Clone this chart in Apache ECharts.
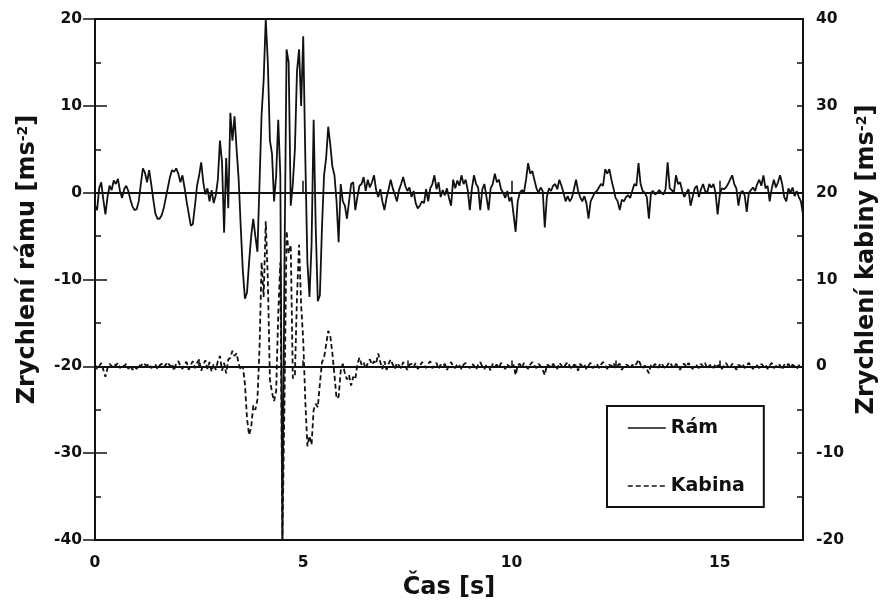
<!DOCTYPE html>
<html>
<head>
<meta charset="utf-8">
<script src="https://cdn.jsdelivr.net/npm/echarts@6/dist/echarts.min.js"></script>
<style>
  html, body { margin: 0; padding: 0; background: #fff; }
  #chart { width: 887px; height: 605px; }
</style>
</head>
<body>
<div id="chart"></div>
<script>
// samples are 0.05 s apart, one row per second
const SAMPLE_STEP = 0.05;
const seriesNames = ["Rám", "Kabina"];

// frame acceleration, left axis [m/s^2]
const ramValues = [
  -1.5, -2.0, 0.5, 1.2, -0.8, -2.5, -0.5, 0.8, 0.3, 1.4, 1.0, 1.6, 0.2, -0.6, 0.4, 0.8, 0.2, -0.8, -1.6, -2.0,
  -1.9, -1.0, 1.0, 2.8, 2.3, 1.2, 2.6, 1.0, -0.8, -2.4, -3.0, -3.0, -2.6, -1.8, -0.6, 0.6, 1.8, 2.6, 2.4, 2.8,
  2.2, 1.2, 2.0, 0.6, -1.0, -2.4, -3.8, -3.6, -1.5, 0.8, 2.0, 3.5, 1.2, -0.2, 0.5, -1.0, 0.3, -1.2, -0.3, 1.5,
  6.0, 3.5, -4.6, 4.0, -1.8, 9.2, 6.0, 8.8, 5.0, 1.5, -4.0, -9.0, -12.2, -11.5, -8.0, -5.0, -3.0, -5.0, -6.8, 1.0,
  9.0, 13.0, 20.0, 15.0, 6.0, 4.5, -1.0, 2.0, 8.4, 2.0, -40.0, -8.0, 16.5, 15.0, -1.5, 1.0, 5.0, 14.0, 16.5, 10.0,
  18.0, 4.0, -8.0, -12.0, -6.0, 8.4, -4.0, -12.5, -11.8, -4.0, 2.0, 4.0, 7.6, 5.5, 3.0, 2.0, -1.0, -5.7, 1.0, -1.0,
  -1.5, -3.0, -1.0, 1.0, 1.2, -2.0, -0.5, 0.8, 1.0, 1.8, 0.2, 1.5, 0.6, 1.2, 2.0, 0.3, -0.5, 0.4, -1.0, -2.0,
  -0.6, 0.4, 1.5, 0.5, -0.2, -1.0, 0.3, 1.0, 1.8, 0.8, 0.2, 0.6, -0.5, 0.2, -1.2, -1.8, -1.5, -1.0, -1.2, 0.4,
  -1.0, 0.5, 1.0, 2.0, 0.4, 1.2, -0.5, 0.3, -0.3, 0.5, -0.6, -1.5, 1.5, 0.5, 1.4, 0.8, 2.0, 1.0, 1.5, 0.3,
  -2.0, 0.5, 2.0, 1.0, 0.6, -2.0, 0.4, 1.0, -0.5, -2.0, 0.5, 1.0, 2.2, 1.2, 1.5, 0.4, 0.0, -0.6, 0.2, -1.0,
  -0.5, -2.5, -4.5, -1.0, 0.0, 0.3, 0.0, 1.5, 3.4, 2.2, 2.5, 1.5, 0.5, 0.0, 0.6, 0.2, -4.0, -0.5, 0.5, 0.2,
  0.8, 1.0, 0.4, 1.5, 0.8, 0.0, -1.0, -0.4, -1.0, -0.6, 0.4, 1.5, 0.2, -0.5, -1.0, -0.4, -1.2, -3.0, -1.0, -0.5,
  0.0, 0.2, 0.6, 1.0, 0.8, 2.7, 2.2, 2.7, 1.5, 0.5, -0.6, -1.0, -2.0, -0.8, -1.0, -0.5, -0.3, -0.6, 0.2, 1.0,
  0.8, 3.4, 1.0, 0.2, 0.0, -0.5, -3.0, 0.0, 0.2, -0.2, 0.0, 0.3, 0.0, -0.2, 0.4, 3.5, 0.5, 0.3, 0.0, 2.0,
  1.0, 1.2, 0.2, -0.5, 0.0, 0.4, -1.5, -0.5, 0.5, 0.8, -0.5, 0.4, 1.0, 0.2, 0.0, 1.0, 0.6, 1.0, 0.0, -2.5,
  -0.3, 0.5, 0.4, 0.6, 1.0, 1.5, 2.0, 1.0, 0.5, -1.5, 0.0, 0.2, -0.3, -2.2, 0.0, 0.3, 0.6, 0.2, 1.0, 1.5,
  0.8, 2.0, 0.5, 0.8, -1.0, 0.5, 1.5, 0.6, 1.2, 2.0, 1.0, -0.5, -1.0, 0.5, 0.0, 0.6, -0.4, 0.2, -0.5, -1.0,
  -2.5
];

// cab acceleration, right axis [m/s^2]
const kabinaValues = [
  0.2, -0.3, 0.0, 0.4, -0.4, -1.2, -0.2, 0.3, 0.0, 0.3, 0.1, 0.4, -0.2, 0.2, 0.0, 0.3, -0.3, 0.1, -0.4, 0.0,
  -0.3, 0.2, 0.0, 0.4, 0.2, 0.1, 0.3, -0.2, 0.0, 0.2, -0.3, 0.1, 0.3, -0.1, 0.2, 0.5, 0.0, 0.3, -0.5, 0.4,
  0.6, 0.1, -0.3, 0.3, 0.5, -0.4, 0.2, 0.6, -0.2, 0.4, 0.8, -0.5, 0.2, 0.7, -0.3, 0.5, -0.6, 0.3, -0.4, 0.6,
  1.2, -0.5, 0.4, -0.8, 0.8, 1.0, 1.8, 1.2, 1.5, 0.3, -0.4, 0.0, -2.0, -6.0, -7.9, -7.0, -4.5, -5.0, -3.8, 2.0,
  12.0, 8.0, 16.7, 10.0, -1.5, -3.0, -4.0, -2.8, 6.0, 12.0, -20.0, -4.0, 15.6, 13.0, 14.0, -1.4, -1.0, 8.0, 14.0, 7.0,
  3.0, -4.0, -9.2, -8.0, -9.0, -5.0, -4.3, -4.7, -2.0, 0.5, 1.0, 2.5, 4.1, 3.5, 1.5, -1.0, -3.7, -3.5, -0.5, 0.3,
  -0.8, -1.5, -1.0, -2.2, -1.2, -1.5, 0.3, 1.0, 0.2, 0.5, -0.3, 0.4, 0.8, 0.2, 0.6, 0.3, 1.5, 0.5, -0.3, 0.6,
  -0.4, 0.3, 0.8, 0.2, -0.3, 0.4, 0.1, -0.2, 0.5, 0.0, -0.4, 0.2, 0.3, -0.1, 0.4, -0.3, 0.0, 0.5, 0.2, -0.2,
  0.3, 0.6, -0.2, 0.1, 0.4, -0.3, 0.2, 0.0, 0.3, -0.4, 0.1, 0.5, 0.0, -0.2, 0.3, 0.1, -0.3, 0.2, 0.4, 0.0,
  -0.2, 0.3, 0.1, -0.4, 0.2, 0.5, 0.0, -0.3, 0.2, 0.1, -0.5, 0.3, 0.0, 0.2, -0.2, 0.4, 0.1, -0.3, 0.2, 0.0,
  -0.3, 0.2, -1.0, 0.1, 0.3, -0.2, 0.4, 0.0, -0.3, 0.2, 0.5, 0.1, -0.2, 0.3, 0.0, -0.4, -1.0, 0.2, 0.1, -0.2,
  0.3, 0.0, -0.3, 0.4, 0.1, -0.2, 0.2, 0.5, 0.0, -0.3, 0.2, 0.1, -0.5, 0.3, 0.0, 0.2, -0.3, 0.1, 0.4, -0.2,
  0.0, 0.3, -0.2, 0.2, 0.5, 0.1, -0.3, 0.2, 0.0, 0.4, -0.2, 0.1, 0.3, -0.4, 0.0, 0.2, 0.1, -0.3, 0.2, 0.0,
  0.3, 0.8, 0.2, -0.2, 0.1, -0.3, -0.8, 0.2, 0.0, 0.3, -0.2, 0.1, 0.4, 0.0, -0.3, 0.2, 0.5, 0.1, -0.2, 0.3,
  0.0, -0.4, 0.2, 0.3, -0.1, 0.4, 0.0, -0.3, 0.2, 0.1, -0.2, 0.3, 0.0, 0.4, -0.3, 0.1, 0.2, -0.2, 0.3, 0.0,
  0.2, -0.3, 0.1, 0.4, 0.0, -0.2, 0.3, 0.1, -0.4, 0.2, 0.0, 0.3, -0.2, 0.1, 0.4, 0.0, -0.3, 0.2, 0.1, -0.2,
  0.3, 0.0, 0.2, -0.3, 0.1, 0.4, -0.2, 0.0, 0.3, 0.1, -0.4, 0.2, 0.0, 0.3, -0.1, 0.2, 0.0, -0.3, 0.1, 0.2,
  0.0
];

const INK = "#111";
const FONT = "DejaVu Sans";
const LINE_W = 1.8;

function withTime(values) {
  return values.map((v, i) => [+(i * SAMPLE_STEP).toFixed(2), v]);
}

function tickLabel() {
  return { color: INK, fontFamily: FONT, fontWeight: "bold", fontSize: 15.5 };
}

function nameStyle(pad) {
  return {
    color: INK, fontFamily: FONT, fontWeight: "bold", fontSize: 24, padding: pad,
    rich: { sup: { color: INK, fontFamily: FONT, fontWeight: "bold", fontSize: 14, verticalAlign: "top", padding: [0, 0, 10, 0] } }
  };
}

// axis used only to draw the short inner ticks between the labelled ones
function minorAxis(pos, min, max, step) {
  return {
    type: "value", position: pos, min: min, max: max, interval: step,
    axisLine: { show: false },
    axisTick: { show: true, inside: true, length: 6, lineStyle: { color: INK, width: 1.5 } },
    axisLabel: { show: false }, splitLine: { show: false }
  };
}

function majorY(pos, min, max, name, gap) {
  return {
    type: "value", min: min, max: max, interval: 10, position: pos,
    axisLine: { show: true, lineStyle: { color: INK, width: 2 } },
    axisTick: { inside: true, length: 12, lineStyle: { color: INK, width: 1.5 } },
    axisLabel: Object.assign(tickLabel(), { margin: 13 }),
    splitLine: { show: false },
    name: name, nameLocation: "middle", nameRotate: 90, nameGap: gap,
    nameTextStyle: nameStyle([0, 0, 0, 40])
  };
}

const zeroLine = {
  silent: true, symbol: ["none", "none"], label: { show: false },
  lineStyle: { color: INK, width: LINE_W, type: "solid" },
  data: [{ yAxis: 0 }]
};

const chart = echarts.init(document.getElementById("chart"), null, { renderer: "canvas" });
chart.setOption({
  animation: false,
  backgroundColor: "#fff",
  grid: { left: 95, right: 81, top: 19, bottom: 64, show: true, borderColor: INK, borderWidth: 2 },
  legend: {
    data: seriesNames, orient: "vertical", left: 607, top: 406,
    itemWidth: 38, itemHeight: 20, itemGap: 38, padding: [12, 19, 11, 20],
    borderColor: INK, borderWidth: 2, selectedMode: false,
    itemStyle: { opacity: 0 },
    lineStyle: { width: 1.6 },
    textStyle: { color: INK, fontFamily: FONT, fontWeight: "bold", fontSize: 19, lineHeight: 20 }
  },
  xAxis: [
    {
      type: "value", min: 0, max: 17, interval: 5, position: "bottom",
      axisLine: { lineStyle: { color: INK, width: 2 } },
      axisTick: { inside: true, length: 12, lineStyle: { color: INK, width: 1.5 } },
      axisLabel: Object.assign(tickLabel(), { margin: 15, showMaxLabel: false }),
      splitLine: { show: false },
      name: "Čas [s]", nameLocation: "middle", nameGap: 33, nameTextStyle: nameStyle(0)
    },
    minorAxis("bottom", 0, 17, 2.5)
  ],
  yAxis: [
    majorY("left", -40, 20, "Zrychlení rámu [ms{sup|-2}]", 55),
    majorY("right", -20, 40, "Zrychlení kabiny [ms{sup|-2}]", 52),
    minorAxis("left", -40, 20, 5),
    minorAxis("right", -20, 40, 5)
  ],
  series: [
    {
      name: seriesNames[0], type: "line", xAxisIndex: 0, yAxisIndex: 0,
      data: withTime(ramValues), symbol: "none", color: INK,
      lineStyle: { color: INK, width: LINE_W }, markLine: zeroLine
    },
    {
      name: seriesNames[1], type: "line", xAxisIndex: 0, yAxisIndex: 1,
      data: withTime(kabinaValues), symbol: "none", color: INK,
      lineStyle: { color: INK, width: LINE_W, type: [5, 3] }, markLine: zeroLine
    }
  ]
});
</script>
</body>
</html>
